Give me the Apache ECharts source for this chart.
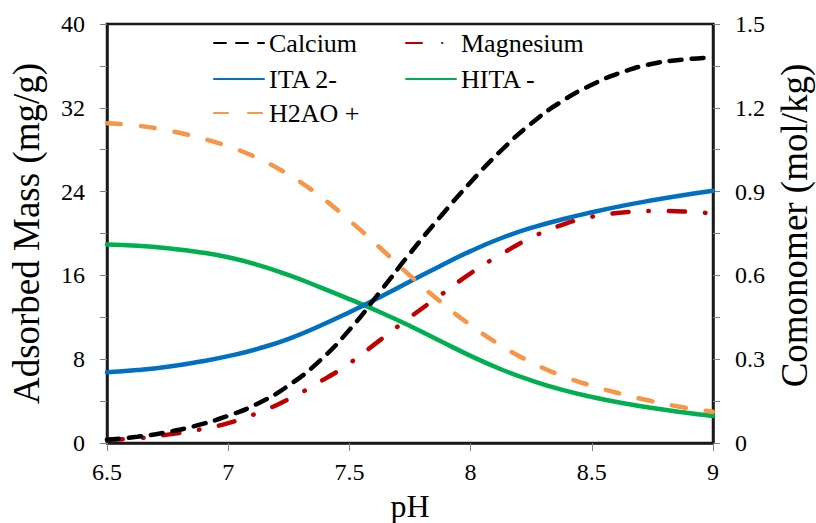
<!DOCTYPE html>
<html>
<head>
<meta charset="utf-8">
<script src="https://cdn.jsdelivr.net/npm/echarts@6/dist/echarts.min.js"></script>
<style>
  html, body { margin: 0; padding: 0; background: #fff; font-family: 'Liberation Serif', serif; }
  #chart { width: 816px; height: 523px; }
</style>
</head>
<body>
<div id="chart"></div>
<script>
// pH grid shared by every curve
const pH = [6.5, 6.625, 6.75, 6.875, 7.0, 7.125, 7.25, 7.375, 7.5, 7.625, 7.75,
            7.875, 8.0, 8.125, 8.25, 8.375, 8.5, 8.625, 8.75, 8.875, 9.0];

// Adsorbed mass, mg/g (left axis)
const calcium   = [0.3, 0.6, 1.05, 1.7, 2.6, 3.8, 5.5, 7.8, 10.8, 14.4, 18.1,
                   21.6, 24.9, 27.9, 30.5, 32.6, 34.2, 35.4, 36.2, 36.6, 36.8];
const magnesium = [0.3, 0.45, 0.8, 1.25, 1.9, 2.9, 4.2, 5.8, 7.6, 9.8, 12.0,
                   14.1, 16.2, 18.0, 19.6, 20.8, 21.6, 22.0, 22.15, 22.1, 21.9];

// Comonomer species, mol/kg (right axis)
const ita2  = [0.253, 0.261, 0.273, 0.290, 0.311, 0.338, 0.373, 0.418, 0.468, 0.522, 0.578,
               0.634, 0.687, 0.733, 0.770, 0.800, 0.826, 0.849, 0.869, 0.887, 0.903];
const hita  = [0.711, 0.706, 0.697, 0.684, 0.665, 0.637, 0.601, 0.559, 0.515, 0.469, 0.419,
               0.365, 0.312, 0.264, 0.224, 0.191, 0.165, 0.143, 0.125, 0.110, 0.097];
const h2ao  = [1.145, 1.136, 1.119, 1.094, 1.062, 1.018, 0.960, 0.886, 0.797, 0.700, 0.599,
               0.506, 0.422, 0.349, 0.289, 0.241, 0.205, 0.175, 0.149, 0.128, 0.112];

// Axis ticks
const xTicks = { min: 6.5, max: 9, interval: 0.5 };
const leftTicks = { min: 0, max: 40, interval: 8 };
const rightTicks = { min: 0, max: 1.5, interval: 0.3 };

const FONT = "'Liberation Serif', 'Times New Roman', serif";
const pairs = (ys) => pH.map((x, i) => [x, ys[i]]);
const fmtNum = (v) => String(Math.round(v * 100) / 100);

const axisLine = { show: true, lineStyle: { color: '#1a1a1a', width: 2.5 } };
const tickStyle = { color: '#808080', width: 1 };
const tickFont = { color: '#000', fontFamily: FONT, fontSize: 24 };
const nameStyle = { color: '#000', fontFamily: FONT, fontSize: 37 };

function tickLabel(margin) {
  return Object.assign({ margin, formatter: fmtNum }, tickFont);
}

function lineSeries(name, data, yAxisIndex, color, dash, width) {
  return {
    name, type: 'line', data: pairs(data), yAxisIndex,
    smooth: true, symbol: 'none', showSymbol: false,
    lineStyle: { color, width, type: dash, cap: 'round' },
    itemStyle: { color },
    z: 3
  };
}

// One legend block per entry so the two columns line up
function legendAt(name, left, top) {
  return {
    data: [name], left, top, padding: 0,
    itemWidth: 50, itemHeight: 14,
    itemStyle: { opacity: 0, borderWidth: 0 },
    textStyle: { color: '#000', fontFamily: FONT, fontSize: 26 },
    selectedMode: false
  };
}

const chart = echarts.init(document.getElementById('chart'), null, { renderer: 'svg' });
chart.setOption({
  animation: false,
  backgroundColor: '#fff',
  textStyle: { fontFamily: FONT, color: '#000' },
  grid: {
    left: 107, right: 103, top: 24, bottom: 80,
    outerBoundsMode: 'none', containLabel: false,
    show: true, borderColor: '#1a1a1a', borderWidth: 2.5, backgroundColor: 'transparent'
  },
  legend: [
    legendAt('Calcium', 213, 30),
    legendAt('ITA 2-', 213, 66),
    legendAt('H2AO +', 213, 100),
    legendAt('Magnesium', 405, 30),
    legendAt('HITA -', 405, 66)
  ],
  xAxis: {
    type: 'value', min: xTicks.min, max: xTicks.max, interval: xTicks.interval,
    name: 'pH', nameLocation: 'middle', nameGap: 47,
    nameTextStyle: Object.assign({}, nameStyle, { fontSize: 32 }),
    axisLine, splitLine: { show: false },
    axisTick: { show: true, inside: false, length: 8, lineStyle: tickStyle },
    axisLabel: tickLabel(17)
  },
  yAxis: [
    {
      type: 'value', position: 'left',
      min: leftTicks.min, max: leftTicks.max, interval: leftTicks.interval,
      name: 'Adsorbed Mass (mg/g)', nameLocation: 'middle', nameRotate: 90, nameGap: 62,
      nameTextStyle: nameStyle,
      axisLine, splitLine: { show: false },
      axisTick: { show: true, inside: false, length: 7, lineStyle: tickStyle },
      minorTick: { show: true, splitNumber: 2, length: 7, lineStyle: tickStyle },
      minorSplitLine: { show: false },
      axisLabel: tickLabel(22)
    },
    {
      type: 'value', position: 'right',
      min: rightTicks.min, max: rightTicks.max, interval: rightTicks.interval,
      name: 'Comonomer (mol/kg)', nameLocation: 'middle', nameRotate: 90, nameGap: 63,
      nameTextStyle: Object.assign({ padding: [0, 0, 0, 16] }, nameStyle),
      axisLine, splitLine: { show: false },
      axisTick: { show: true, inside: false, length: 7, lineStyle: tickStyle },
      minorTick: { show: true, splitNumber: 2, length: 7, lineStyle: tickStyle },
      minorSplitLine: { show: false },
      axisLabel: tickLabel(22)
    }
  ],
  series: [
    lineSeries('HITA -', hita, 1, '#00B050', 'solid', 4.5),
    lineSeries('ITA 2-', ita2, 1, '#0070C0', 'solid', 4.5),
    lineSeries('Magnesium', magnesium, 0, '#C00000', [16, 20, 0.5, 20], 4.5),
    lineSeries('Calcium', calcium, 0, '#000000', [12, 10], 4.5),
    lineSeries('H2AO +', h2ao, 1, '#F79646', [14, 20], 4.5)
  ]
});
</script>
</body>
</html>
